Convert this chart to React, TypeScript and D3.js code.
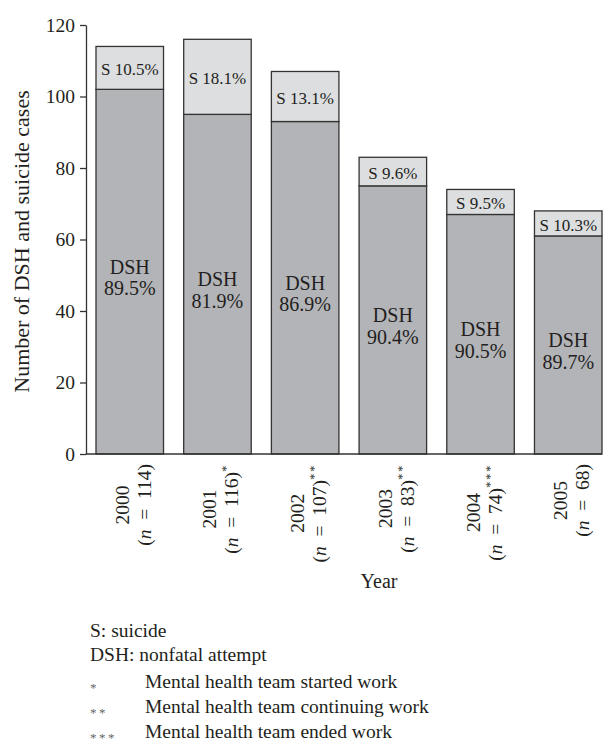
import React, { useEffect, useRef } from 'react';
import * as d3 from 'd3';

const years = ['2000', '2001', '2002', '2003', '2004', '2005'];
const totals = [114, 116, 107, 83, 74, 68];
const dshCounts = [102, 95, 93, 75, 67, 61];
const suicideCounts = [12, 21, 14, 8, 7, 7];
const dshPct = ['89.5%', '81.9%', '86.9%', '90.4%', '90.5%', '89.7%'];
const sPct = ['10.5%', '18.1%', '13.1%', '9.6%', '9.5%', '10.3%'];
const marks = ['', '*', '**', '**', '***', ''];
const yTicks = [0, 20, 40, 60, 80, 100, 120];
const legendLines = ['S: suicide', 'DSH: nonfatal attempt'];
const legendMarks = ['*', '**', '***'];
const legendNotes = ['Mental health team started work', 'Mental health team continuing work', 'Mental health team ended work'];

const W = 608;
const H = 748;
const FONT = '"Liberation Serif", "Times New Roman", serif';
const TEXT = '#231f20';

export default function App() {
  const ref = useRef<SVGSVGElement | null>(null);

  useEffect(() => {
    const svg = d3.select(ref.current);
    svg.selectAll('*').remove();
    svg.attr('font-family', FONT);

    const x = d3.scaleBand<string>().domain(years).range([86, 612]).paddingInner(0.23).paddingOuter(0.114);
    const y = d3.scaleLinear().domain([0, 120]).range([454, 25]);

    const rows = years.map((yr, i) => ({ year: yr, dsh: dshCounts[i], s: suicideCounts[i], total: totals[i] }));
    const stack = d3.stack<any>().keys(['dsh', 's'])(rows);
    const fills = ['#b3b4b8', '#dddee0'];

    stack.forEach((layer, li) => {
      svg.append('g').selectAll('rect').data(layer).join('rect')
        .attr('x', (d: any) => x(d.data.year)!)
        .attr('width', x.bandwidth())
        .attr('y', (d: any) => y(d[1]))
        .attr('height', (d: any) => y(d[0]) - y(d[1]))
        .attr('fill', fills[li])
        .attr('stroke', '#333')
        .attr('stroke-width', 1.3);
    });

    // DSH labels
    const dshLayer = stack[0];
    const sLayer = stack[1];
    dshLayer.forEach((d: any, i) => {
      const cx = x(years[i])! + x.bandwidth() / 2;
      const mid = (y(d[0]) + y(d[1])) / 2;
      const t = svg.append('text').attr('text-anchor', 'middle').attr('font-size', 20).attr('fill', TEXT);
      t.append('tspan').attr('x', cx).attr('y', mid + 2).text('DSH');
      t.append('tspan').attr('x', cx).attr('y', mid + 2 + 21.7).text(dshPct[i]);
    });
    sLayer.forEach((d: any, i) => {
      const cx = x(years[i])! + x.bandwidth() / 2;
      const mid = (y(d[0]) + y(d[1])) / 2;
      svg.append('text').attr('text-anchor', 'middle').attr('font-size', 17).attr('fill', TEXT)
        .attr('x', cx).attr('y', mid + 7.5).text('S ' + sPct[i]);
    });

    // Y axis
    const yAxis = d3.axisLeft(y).tickValues(yTicks).tickSize(6).tickSizeOuter(0).tickPadding(5);
    const ga = svg.append('g').attr('transform', 'translate(86,0)').call(yAxis as any);
    ga.attr('font-family', FONT);
    ga.select('.domain').attr('stroke', '#333').attr('stroke-width', 1.3);
    ga.selectAll('.tick line').attr('stroke', '#333').attr('stroke-width', 1.3);
    ga.selectAll('.tick text').attr('font-size', 19.5).attr('font-family', FONT).attr('fill', TEXT);

    // baseline
    const lastEnd = x(years[years.length - 1])! + x.bandwidth();
    svg.append('line').attr('x1', 86).attr('x2', lastEnd).attr('y1', y(0)).attr('y2', y(0))
      .attr('stroke', '#333').attr('stroke-width', 1.3);

    // Y title
    svg.append('text').attr('transform', `translate(29,${(y(0) + y(120)) / 2 + 2}) rotate(-90)`)
      .attr('text-anchor', 'middle').attr('font-size', 22).attr('fill', TEXT)
      .text('Number of DSH and suicide cases');

    // X labels
    years.forEach((yr, i) => {
      const cx = x(yr)! + x.bandwidth() / 2;
      const t1 = svg.append('text').attr('text-anchor', 'middle').attr('font-size', 19.5).attr('fill', TEXT).text(yr);
      const t2 = svg.append('text').attr('text-anchor', 'middle').attr('font-size', 19.5).attr('fill', TEXT);
      t2.append('tspan').text('(');
      t2.append('tspan').attr('font-style', 'italic').text('n');
      t2.append('tspan').text(`\u2002=\u2002${totals[i]})`);
      if (marks[i]) {
        t2.append('tspan').attr('font-size', 13).attr('dy', -8).attr('letter-spacing', 1.5).text(marks[i]);
      }
      const l1 = (t1.node() as SVGTextElement).getComputedTextLength();
      const l2 = (t2.node() as SVGTextElement).getComputedTextLength();
      const yc = 464 + Math.max(l1, l2) / 2;
      t1.attr('transform', `translate(${cx - 1},${yc}) rotate(-90)`);
      t2.attr('transform', `translate(${cx + 21},${yc}) rotate(-90)`);
    });

    // X title
    svg.append('text').attr('x', 379).attr('y', 588).attr('text-anchor', 'middle')
      .attr('font-size', 20).attr('fill', TEXT).text('Year');

    // Legend
    legendLines.forEach((s, i) => {
      svg.append('text').attr('x', 90).attr('y', 637 + i * 24).attr('font-size', 19.5).attr('fill', TEXT).text(s);
    });
    legendNotes.forEach((s, i) => {
      const by = 688 + i * 25;
      svg.append('text').attr('x', 90).attr('y', by + 4).attr('font-size', 13).attr('letter-spacing', 2.5)
        .attr('fill', '#666').text(legendMarks[i]);
      svg.append('text').attr('x', 145).attr('y', by).attr('font-size', 19.5).attr('fill', TEXT).text(s);
    });
  }, []);

  return (
    <svg ref={ref} width={W} height={H} viewBox={`0 0 ${W} ${H}`}
      style={{ position: 'absolute', left: 0, top: 0, background: '#fff' }} />
  );
}
